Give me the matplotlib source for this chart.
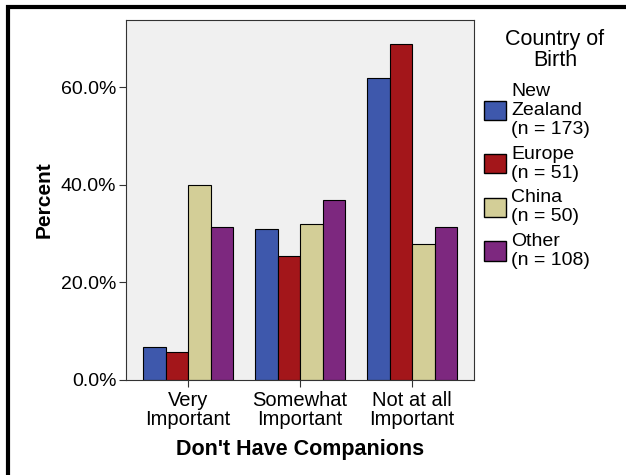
import matplotlib
matplotlib.use("Agg")
import matplotlib.pyplot as plt
import numpy as np
from matplotlib.patches import Rectangle

plt.rcParams['font.family'] = ['Liberation Sans', 'DejaVu Sans']

categories = ["Very\nImportant", "Somewhat\nImportant", "Not at all\nImportant"]
series = ["New\nZealand\n(n = 173)", "Europe\n(n = 51)", "China\n(n = 50)", "Other\n(n = 108)"]
new_zealand = [6.7, 31.0, 61.9]
europe = [5.7, 25.4, 68.8]
china = [40.0, 31.9, 27.9]
other = [31.3, 36.9, 31.3]
values = [new_zealand, europe, china, other]
colors = ["#3e58ac", "#a3161a", "#d3ce97", "#7d287f"]

fig = plt.figure(figsize=(6.26, 4.75), dpi=100)
ax = fig.add_axes([126/626, 95/475, 348/626, 360/475])
ax.set_facecolor("#f0f0f0")

x = np.arange(len(categories))
w = 0.2
for i, (vals, col, lab) in enumerate(zip(values, colors, series)):
    ax.bar(x + (i - 1.5) * w, vals, width=w, color=col, edgecolor="black",
           linewidth=0.8, label=lab)

ax.set_xlim(-0.554, 2.551)
ax.set_ylim(0, 73.8)
ax.set_yticks([0, 20, 40, 60])
ax.set_yticklabels(["0.0%", "20.0%", "40.0%", "60.0%"], fontsize=14)
ax.set_xticks(x)
ax.set_xticklabels(categories, fontsize=14.5, linespacing=1.0)
ax.tick_params(direction="out", length=5, width=0.8, color="#333333", pad=2)
ax.tick_params(axis="x", pad=3)
for s in ax.spines.values():
    s.set_color("#333333")
    s.set_linewidth(0.8)

ax.set_ylabel("Percent", fontsize=15, fontweight="bold", labelpad=5)
ax.set_xlabel("Don't Have Companions", fontsize=15.5, fontweight="bold", labelpad=7)

leg = ax.legend(loc="upper left", bbox_to_anchor=(484/626, 1 - 83/475),
                bbox_transform=fig.transFigure, frameon=False, fontsize=14,
                handlelength=1.15, handleheight=1.15, handletextpad=0.25,
                labelspacing=0.4, borderpad=0, borderaxespad=0)
for t in leg.get_texts():
    t.set_linespacing(1.15)
for p in leg.get_patches():
    p.set_linewidth(1.0)

fig.text(555/626, 1 - 29/475, "Country of\nBirth", ha="center", va="top",
         fontsize=15.5, linespacing=1.0, multialignment="center")

# outer frame
fig.patches.append(Rectangle((8/626, -0.02), 1.0, 1 - 7/475 + 0.02,
                             transform=fig.transFigure, fill=False,
                             edgecolor="black", linewidth=3, zorder=10))

fig.savefig("out.png", dpi=100)
